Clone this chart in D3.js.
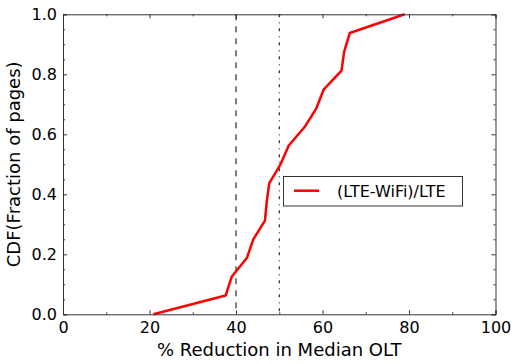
<!DOCTYPE html>
<html><head><meta charset="utf-8">
<script src="https://cdn.jsdelivr.net/npm/d3@7"></script>
<style>body{margin:0;background:#fff}svg{display:block}text{font-family:"DejaVu Sans",sans-serif;fill:#000}</style>
</head><body><svg id="c" width="514" height="364"></svg>
<script>
const reduction = [20.9,37.6,39.0,42.5,44.0,46.7,47.1,47.7,50.3,52.2,55.9,58.6,60.3,64.4,65.0,66.3,79.0];
const cdf = [0,0.0625,0.125,0.1875,0.25,0.3125,0.375,0.4375,0.5,0.5625,0.625,0.6875,0.75,0.8125,0.875,0.9375,1.0];
const xTicks = [0,20,40,60,80,100];
const xMinor = [10,30,50,70,90];
const yTicks = [0,0.2,0.4,0.6,0.8,1.0];
const refLines = [40,50];
const seriesName = "(LTE-WiFi)/LTE";

const svg = d3.select("#c");
const L=63,R=495.5,T=14.3,B=314.3;
const x = d3.scaleLinear().domain([0,100]).range([L,R]);
const y = d3.scaleLinear().domain([0,1]).range([B,T]);
const yMinor = d3.range(0,1.0001,0.05).filter(v=>Math.round(v*100)%20!==0);

// reference lines
svg.append("line").attr("x1",x(refLines[0])).attr("x2",x(refLines[0])).attr("y1",T).attr("y2",B)
  .attr("stroke","#000").attr("stroke-width",1).attr("stroke-dasharray","6,6");
svg.append("line").attr("x1",x(refLines[1])).attr("x2",x(refLines[1])).attr("y1",T).attr("y2",B)
  .attr("stroke","#000").attr("stroke-width",1).attr("stroke-dasharray","3,5,1,5");

// series
const data = reduction.map((v,i)=>[v,cdf[i]]);
svg.append("path").datum(data).attr("fill","none").attr("stroke","#ff0000").attr("stroke-width",2.5)
  .attr("stroke-linejoin","round")
  .attr("d",d3.line().x(d=>x(d[0])).y(d=>y(d[1])));

function style(g, keepDomain){
  g.selectAll("line").attr("stroke","#333");
  if(keepDomain) g.select(".domain").attr("stroke","#333"); else g.select(".domain").remove();
}
svg.append("g").attr("transform",`translate(0,${B})`).call(d3.axisBottom(x).tickValues(xTicks).tickSize(-4).tickPadding(7).tickFormat(d3.format("d")))
  .call(g=>{g.selectAll("text").attr("font-size",16).attr("font-family","DejaVu Sans").attr("dy","0.71em");style(g,true);});
svg.append("g").attr("transform",`translate(0,${B})`).call(d3.axisBottom(x).tickValues(xMinor).tickSize(-2).tickFormat("")).call(g=>style(g,false));
svg.append("g").attr("transform",`translate(0,${T})`).call(d3.axisTop(x).tickValues(xTicks).tickSize(-4).tickFormat("")).call(g=>style(g,true));
svg.append("g").attr("transform",`translate(0,${T})`).call(d3.axisTop(x).tickValues(xMinor).tickSize(-2).tickFormat("")).call(g=>style(g,false));
svg.append("g").attr("transform",`translate(${L},0)`).call(d3.axisLeft(y).tickValues(yTicks).tickSize(-4).tickPadding(6).tickFormat(d3.format(".1f")))
  .call(g=>{g.selectAll("text").attr("font-size",16).attr("font-family","DejaVu Sans");style(g,true);});
svg.append("g").attr("transform",`translate(${L},0)`).call(d3.axisLeft(y).tickValues(yMinor).tickSize(-2).tickFormat("")).call(g=>style(g,false));
svg.append("g").attr("transform",`translate(${R},0)`).call(d3.axisRight(y).tickValues(yTicks).tickSize(-4).tickFormat("")).call(g=>style(g,true));
svg.append("g").attr("transform",`translate(${R},0)`).call(d3.axisRight(y).tickValues(yMinor).tickSize(-2).tickFormat("")).call(g=>style(g,false));

// titles
svg.append("text").attr("x",(L+R)/2).attr("y",355.5).attr("text-anchor","middle").attr("font-size",18).text("% Reduction in Median OLT");
svg.append("text").attr("transform",`translate(20,${(T+B)/2}) rotate(-90)`).attr("text-anchor","middle").attr("font-size",18).text("CDF(Fraction of pages)");

// legend
const lg = svg.append("g");
lg.append("rect").attr("x",283.5).attr("y",176.5).attr("width",179).attr("height",29.5).attr("fill","#fff").attr("stroke","#333").attr("stroke-width",1);
lg.append("line").attr("x1",294).attr("x2",319).attr("y1",190.7).attr("y2",190.7).attr("stroke","#ff0000").attr("stroke-width",2.5);
lg.append("text").attr("x",337).attr("y",196.5).attr("font-size",16).text(seriesName);
</script></body></html>
